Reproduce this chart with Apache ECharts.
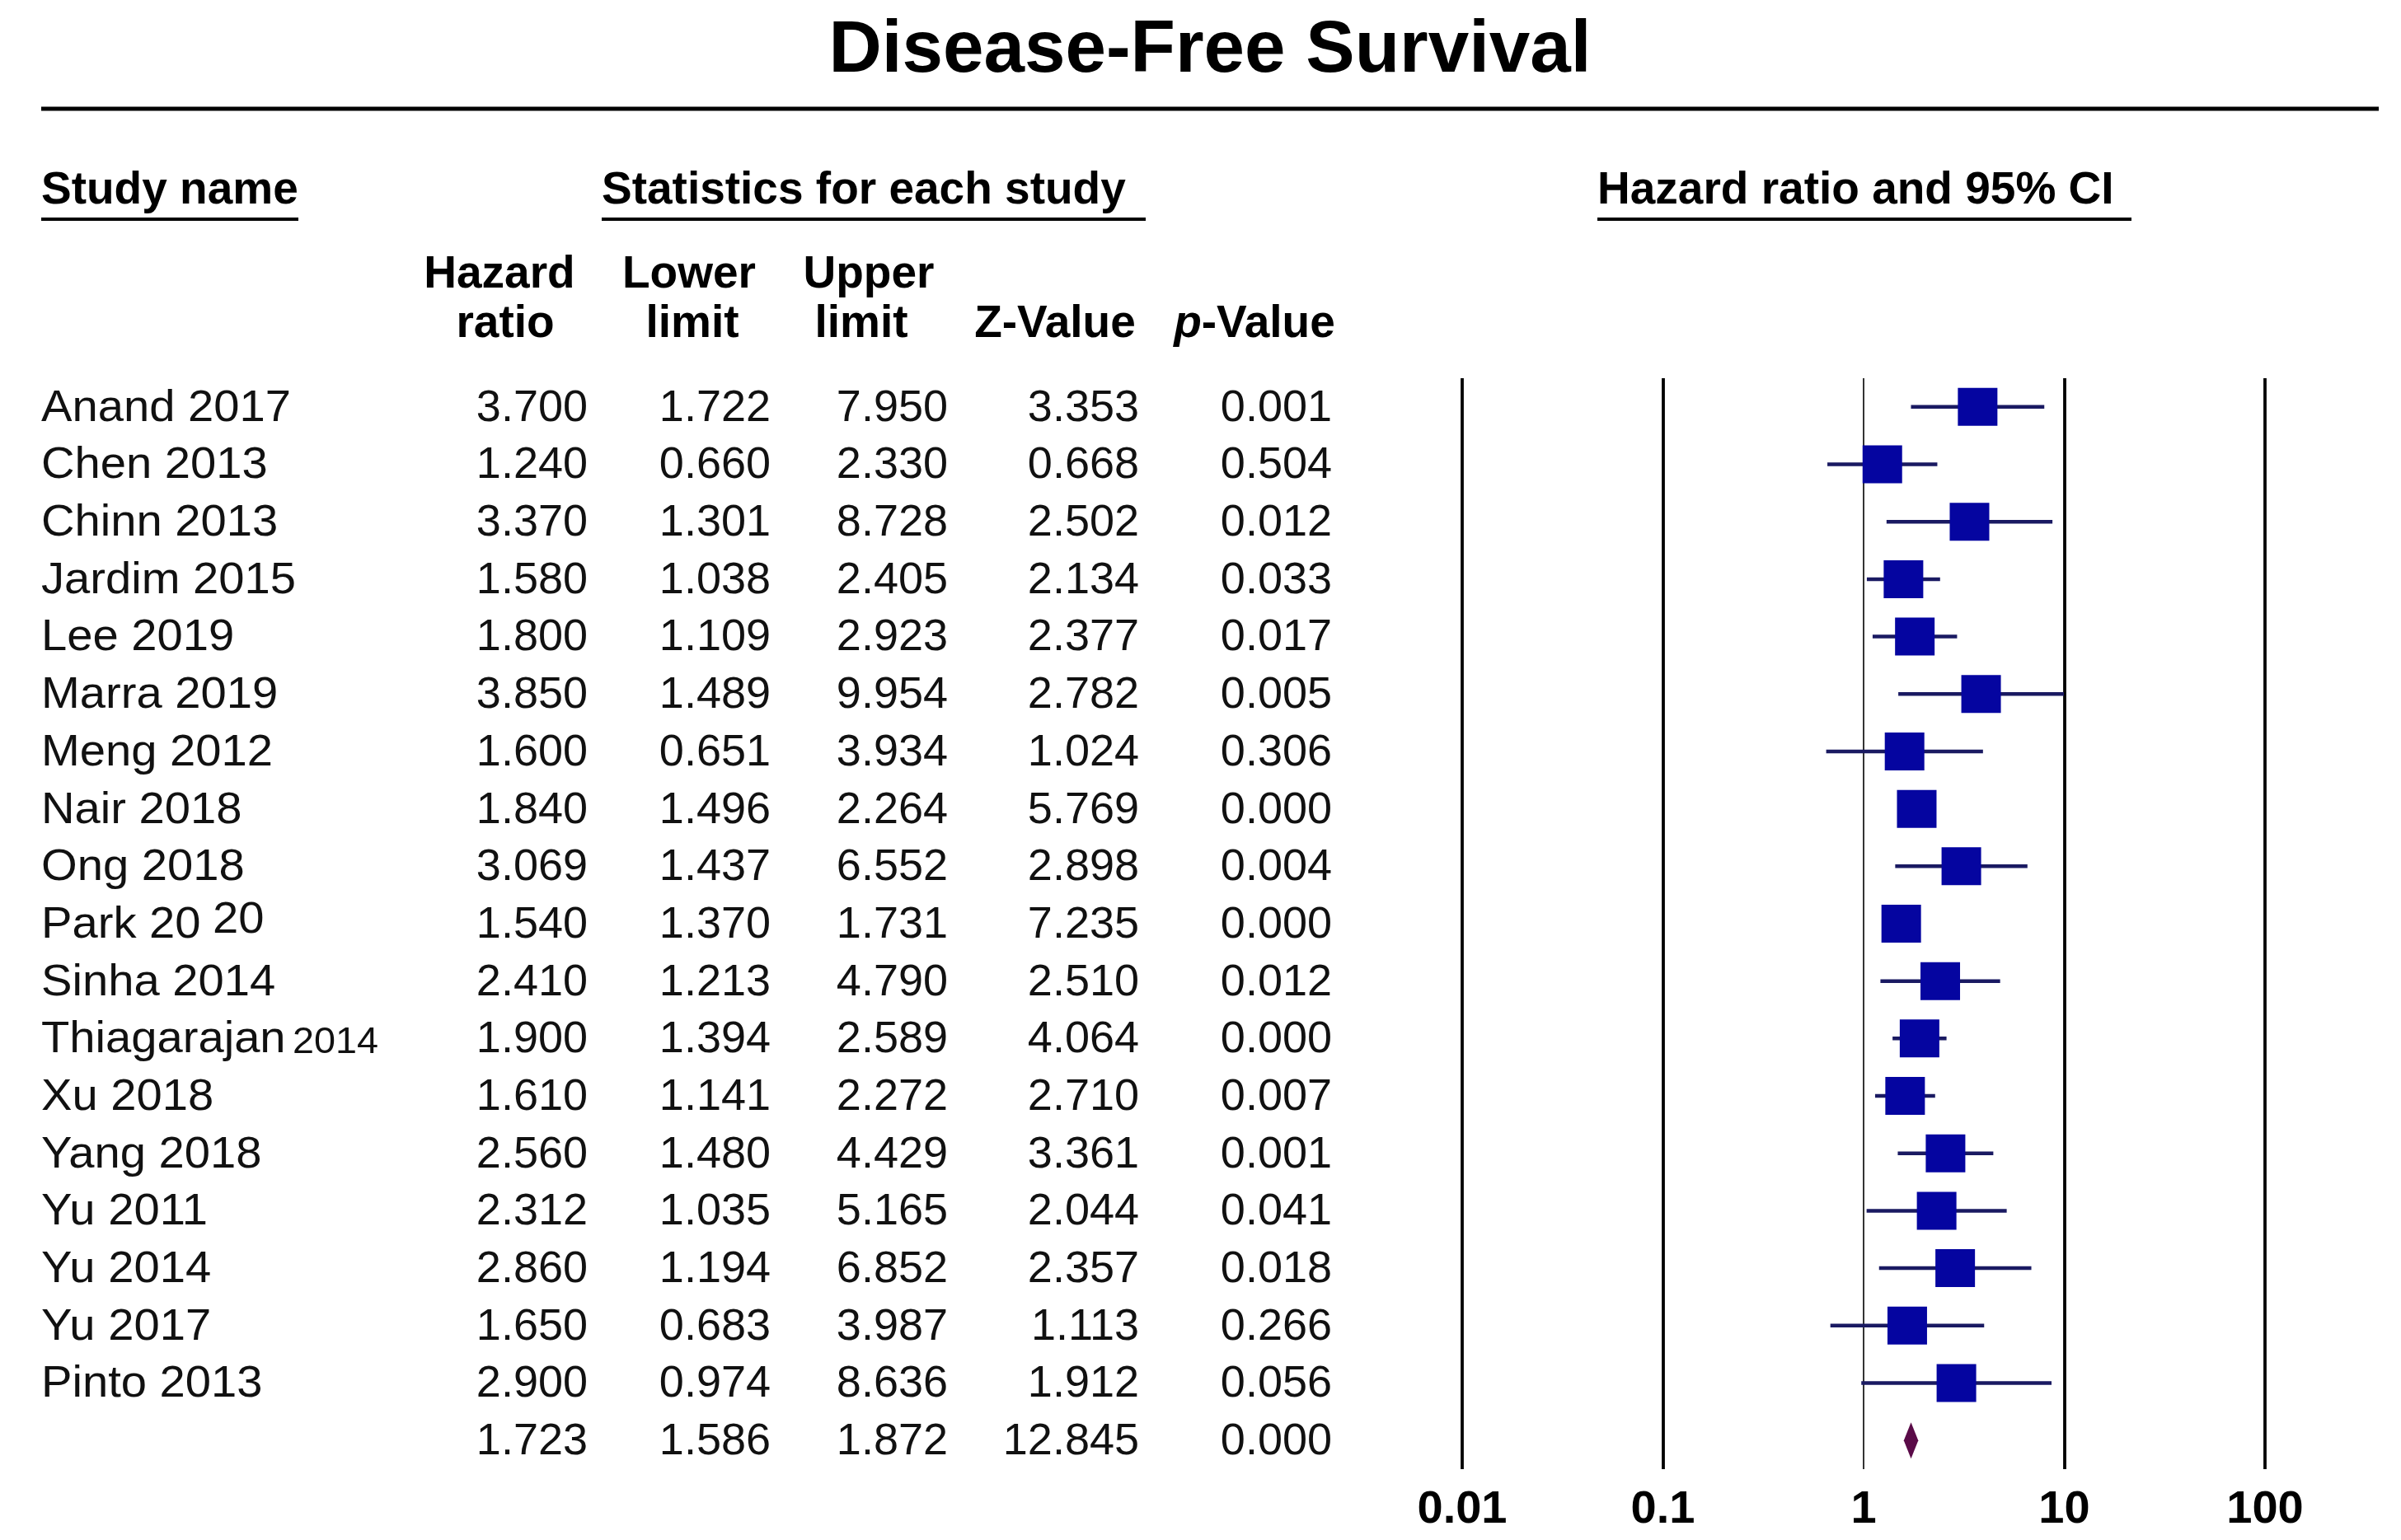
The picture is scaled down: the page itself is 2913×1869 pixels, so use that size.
<!DOCTYPE html>
<html><head><meta charset="utf-8">
<script src="https://cdn.jsdelivr.net/npm/echarts@6/dist/echarts.min.js"></script>
<style>html,body{margin:0;padding:0;background:#fff}#c{width:2913px;height:1869px}</style>
</head><body><div id="c"></div>
<script>
// ---- data ----
const studies = ['Anand 2017','Chen 2013','Chinn 2013','Jardim 2015','Lee 2019','Marra 2019','Meng 2012','Nair 2018','Ong 2018','Park 2020','Sinha 2014','Thiagarajan 2014','Xu 2018','Yang 2018','Yu 2011','Yu 2014','Yu 2017','Pinto 2013',''];
const hazardRatio = [3.700,1.240,3.370,1.580,1.800,3.850,1.600,1.840,3.069,1.540,2.410,1.900,1.610,2.560,2.312,2.860,1.650,2.900,1.723];
const lowerLimit  = [1.722,0.660,1.301,1.038,1.109,1.489,0.651,1.496,1.437,1.370,1.213,1.394,1.141,1.480,1.035,1.194,0.683,0.974,1.586];
const upperLimit  = [7.950,2.330,8.728,2.405,2.923,9.954,3.934,2.264,6.552,1.731,4.790,2.589,2.272,4.429,5.165,6.852,3.987,8.636,1.872];
const zValue      = [3.353,0.668,2.502,2.134,2.377,2.782,1.024,5.769,2.898,7.235,2.510,4.064,2.710,3.361,2.044,2.357,1.113,1.912,12.845];
const pValue      = [0.001,0.504,0.012,0.033,0.017,0.005,0.306,0.000,0.004,0.000,0.012,0.000,0.007,0.001,0.041,0.018,0.266,0.056,0.000];
const tickValues = [0.01, 0.1, 1, 10, 100];
const tickLabels = ['0.01', '0.1', '1', '10', '100'];
const summaryRow = 18;

// ---- rendering ----
const FONT = '"Liberation Sans", Arial, Helvetica, sans-serif';
const rowIdx = studies.map((s, i) => String(i));
const chart = echarts.init(document.getElementById('c'), null, {renderer: 'canvas'});

function nameText(name) {
  if (name.indexOf('Thiagarajan') === 0) return '{a|Thiagarajan}{s|' + name.split(' ')[1] + '}';
  if (name === 'Park 2020') return '{a|Park 20}{r|20}';
  return '{a|' + name + '}';
}
const nameRich = {
  a: {fontSize: 54, fontFamily: FONT, fill: '#111', color: '#111'},
  s: {fontSize: 45, fontFamily: FONT, fill: '#111', color: '#111', padding: [6, 0, 0, 8]},
  r: {fontSize: 54, fontFamily: FONT, fill: '#111', color: '#111', padding: [0, 0, 12, 14]}
};

function txt(text, x, y, align, font, extra) {
  return Object.assign({
    type: 'text',
    style: {text: text, x: x, y: y, align: align, verticalAlign: 'middle',
      textAlign: align, textVerticalAlign: 'middle', font: font, fill: '#000'}
  }, extra || {});
}
const HB = 'bold 55px ' + FONT;
const graphics = [
  txt('Disease-Free Survival', 1468, 62, 'center', 'bold 89px ' + FONT),
  {type: 'line', shape: {x1: 50, y1: 132, x2: 2886, y2: 132}, style: {stroke: '#000', lineWidth: 5}},
  txt('Study name', 50, 232, 'left', HB),
  {type: 'line', shape: {x1: 50, y1: 266, x2: 362, y2: 266}, style: {stroke: '#000', lineWidth: 4}},
  txt('Statistics for each study', 730, 232, 'left', HB),
  {type: 'line', shape: {x1: 730, y1: 266, x2: 1390, y2: 266}, style: {stroke: '#000', lineWidth: 4}},
  txt('Hazard ratio and 95% CI', 1938, 232, 'left', HB),
  {type: 'line', shape: {x1: 1938, y1: 266, x2: 2586, y2: 266}, style: {stroke: '#000', lineWidth: 4}},
  txt('Hazard', 606, 334, 'center', HB),
  txt('ratio', 613, 394, 'center', HB),
  txt('Lower', 836, 334, 'center', HB),
  txt('limit', 840, 394, 'center', HB),
  txt('Upper', 1054, 334, 'center', HB),
  txt('limit', 1045, 394, 'center', HB),
  txt('Z-Value', 1280, 394, 'center', HB),
  {type: 'text', style: {text: '{i|p}{n|-Value}', x: 1522, y: 394, align: 'center', verticalAlign: 'middle',
    textAlign: 'center', textVerticalAlign: 'middle', font: HB, fill: '#000',
    rich: {i: {fontStyle: 'italic', fontWeight: 'bold', fontSize: 55, fontFamily: FONT, fill: '#000'},
           n: {fontWeight: 'bold', fontSize: 55, fontFamily: FONT, fill: '#000'}}}}
];

const colRight = [713, 935, 1150, 1382, 1616];
const DF = '54px ' + FONT;

const option = {
  animation: false,
  backgroundColor: '#fff',
  graphic: {elements: graphics},
  grid: {left: 1774, right: 165, top: 459, height: 1324, containLabel: false},
  xAxis: {
    type: 'log', logBase: 10, min: 0.01, max: 100,
    axisLine: {show: false}, axisTick: {show: false}, splitLine: {show: false},
    axisLabel: {
      margin: 22, fontSize: 56, fontWeight: 'bold', fontFamily: FONT, color: '#000',
      formatter: function (v) {
        for (let k = 0; k < tickValues.length; k++) {
          if (Math.abs(Math.log10(v) - Math.log10(tickValues[k])) < 1e-6) return tickLabels[k];
        }
        return '';
      }
    }
  },
  yAxis: {type: 'category', data: rowIdx, inverse: true, show: false, boundaryGap: true},
  series: [
    {
      type: 'line', data: [], z: 1, silent: true,
      markLine: {
        silent: true, symbol: 'none', label: {show: false}, animation: false,
        data: tickValues.map(t => ({xAxis: t, lineStyle: {color: '#000', type: 'solid', width: t === 1 ? 1.6 : 3.8}}))
      }
    },
    {
      type: 'custom', z: 5, clip: false,
      data: hazardRatio.map((h, i) => [i, h, lowerLimit[i], upperLimit[i]]),
      encode: {x: [1, 2, 3], y: 0},
      renderItem: function (params, api) {
        const i = api.value(0);
        const c = api.coord([api.value(1), i]);
        const l = api.coord([api.value(2), i]);
        const u = api.coord([api.value(3), i]);
        if (i === summaryRow) {
          return {type: 'polygon', shape: {points: [[l[0], c[1]], [c[0], c[1] - 22], [u[0], c[1]], [c[0], c[1] + 22]]},
            style: {fill: '#5a0b48'}};
        }
        return {type: 'group', children: [
          {type: 'line', shape: {x1: l[0], y1: c[1], x2: u[0], y2: c[1]}, style: {stroke: '#1a1a62', lineWidth: 4.5}},
          {type: 'rect', shape: {x: c[0] - 24, y: c[1] - 23, width: 48, height: 46}, style: {fill: '#0505a0'}}
        ]};
      }
    },
    {
      type: 'custom', z: 6, clip: false, silent: true,
      data: hazardRatio.map((h, i) => [i, h]),
      encode: {x: 1, y: 0},
      renderItem: function (params, api) {
        const i = api.value(0);
        const y = api.coord([api.value(1), i])[1];
        const vals = [hazardRatio[i], lowerLimit[i], upperLimit[i], zValue[i], pValue[i]];
        const children = [];
        if (studies[i]) {
          children.push({type: 'text', x: 50, y: y + 2, scaleX: 1.04,
            style: {text: nameText(studies[i]), x: 0, y: 0,
            align: 'left', verticalAlign: 'middle', textAlign: 'left', textVerticalAlign: 'middle',
            font: DF, fill: '#111', rich: nameRich}});
        }
        vals.forEach((v, k) => {
          children.push({type: 'text', style: {text: v.toFixed(3), x: colRight[k], y: y + 2,
            align: 'right', verticalAlign: 'middle', textAlign: 'right', textVerticalAlign: 'middle',
            font: DF, fill: '#111'}});
        });
        return {type: 'group', children: children};
      }
    }
  ]
};
chart.setOption(option);
</script>
</body></html>
